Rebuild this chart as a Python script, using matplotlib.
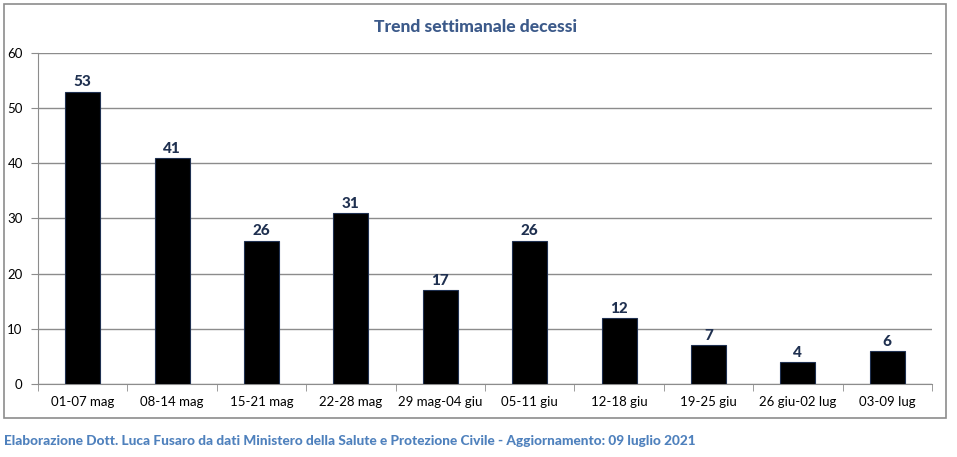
import matplotlib
matplotlib.use("Agg")
import matplotlib.pyplot as plt
import matplotlib.patches as patches
import numpy as np

plt.rcParams['font.family'] = ['Lato', 'DejaVu Sans']

# --- Dati ---
settimane = ["01-07 mag", "08-14 mag", "15-21 mag", "22-28 mag", "29 mag-04 giu",
             "05-11 giu", "12-18 giu", "19-25 giu", "26 giu-02 lug", "03-09 lug"]
decessi = [53, 41, 26, 31, 17, 26, 12, 7, 4, 6]

titolo = "Trend settimanale decessi"
nota = ("Elaborazione Dott. Luca Fusaro da dati Ministero della Salute e Protezione Civile"
        " - Aggiornamento: 09 luglio 2021")

W, H = 957, 457
fig = plt.figure(figsize=(W / 100, H / 100), dpi=100)

# riquadro esterno
fig.patches.append(patches.Rectangle((4 / W, 1 - 418 / H), 942 / W, 414 / H,
                                     transform=fig.transFigure, fill=False,
                                     edgecolor="#8c8c8c", lw=1.2))

ax = fig.add_axes([38 / W, 1 - 384 / H, 894 / W, 331 / H])
x = np.arange(len(settimane))
ax.bar(x, decessi, width=0.39, color="black", edgecolor="#1f3050", lw=0.8, zorder=3)

for xi, v in zip(x, decessi):
    ax.text(xi, v + 0.4, str(v), ha="center", va="bottom", fontsize=11,
            fontweight="black", color="#1f3050")

ax.set_xlim(-0.5, len(settimane) - 0.5)
ax.set_ylim(0, 60)
ax.set_yticks(range(0, 61, 10))
ax.yaxis.grid(True, color="#8c8c8c", lw=1)
ax.set_axisbelow(True)

ax.set_xticks(x)
ax.set_xticklabels(settimane, fontsize=9.5)
ax.set_xticks(np.arange(-0.5, len(settimane)), minor=True)
ax.tick_params(axis="x", which="major", length=0, pad=9)
ax.tick_params(axis="x", which="minor", length=5, color="#8c8c8c", direction="out")
ax.tick_params(axis="y", length=5, color="#8c8c8c", labelsize=9.5, pad=6)

for s in ["top", "right"]:
    ax.spines[s].set_visible(False)
for s in ["left", "bottom"]:
    ax.spines[s].set_color("#8c8c8c")

fig.text(475 / W, 1 - 27 / H, titolo, ha="center", va="center", fontsize=12.6,
         fontweight="black", color="#3c5a8a")
fig.text(4 / W, 1 - 441 / H, nota, ha="left", va="center", fontsize=9.8,
         fontweight="black", color="#4f81bd")

fig.savefig("out.png", dpi=100)
